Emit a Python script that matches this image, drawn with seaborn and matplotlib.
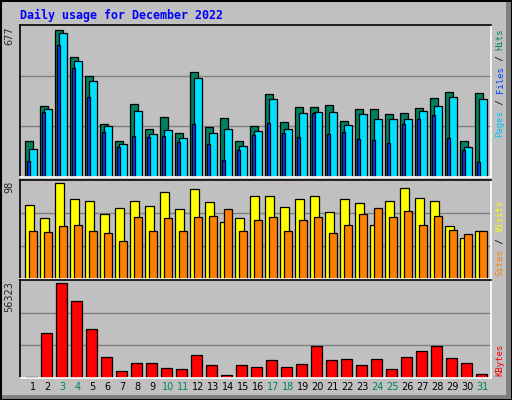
import numpy as np
import matplotlib
matplotlib.use('Agg')
import matplotlib.pyplot as plt
from matplotlib.lines import Line2D
import seaborn as sns

days = list(range(1, 32))
weekend = [3, 4, 10, 11, 17, 18, 24, 25, 31]
hits = [165, 325, 677, 553, 462, 242, 165, 334, 220, 274, 201, 480, 229, 270, 165, 233,
        380, 252, 320, 320, 329, 256, 311, 311, 288, 293, 316, 361, 389, 165, 384]
files = [128, 311, 663, 531, 439, 233, 151, 302, 197, 215, 178, 453, 201, 220, 142, 210,
         357, 220, 293, 297, 297, 238, 288, 265, 265, 265, 302, 325, 366, 137, 357]
pages = [73, 297, 608, 499, 366, 206, 137, 188, 183, 188, 160, 242, 151, 78, 123, 192,
         247, 201, 183, 293, 197, 206, 174, 169, 155, 242, 265, 284, 178, 123, 69]
visits = [75.6, 61.8, 98, 82, 80, 66, 72.4, 80, 74.6, 88.4, 71.4, 91.6, 78.8, 58.6, 61.8, 84.2,
          85.2, 73.5, 82, 85.2, 68.2, 82, 77.8, 55.4, 80, 92.7, 83.1, 80, 54.3, 41.5, 49]
sites = [49, 48, 54.3, 55.4, 49, 46.9, 38.3, 62.8, 49, 61.8, 49, 62.8, 63.9, 71.4, 49, 60.7,
         62.8, 49, 60.7, 62.8, 46.9, 55.4, 66, 72.4, 62.8, 69.2, 55.4, 63.9, 50, 45.8, 49]
kbytes = [600, 26616, 56323, 45803, 29091, 12379, 4333, 8665, 8665, 6190, 5570, 13617, 7428,
          1857, 7428, 6809, 10522, 6809, 8047, 19187, 10522, 11141, 7428, 11141, 5570, 12379,
          16093, 19187, 11760, 8665, 2476]

sns.set_style('white')
plt.rcParams['font.family'] = ['DejaVu Sans']
bg = '#c0c0c0'
fig = plt.figure(figsize=(5.12, 4.0), dpi=100, facecolor=bg)

x = np.array(days, dtype=float) - 0.5
W, H = 512, 400


def panel(top, bottom):
    ax = fig.add_axes([20 / W, 1 - bottom / H, 471 / W, (bottom - top) / H])
    ax.set_facecolor(bg)
    ax.set_xlim(0.147, 31.55)
    ax.set_xticks([])
    ax.set_yticks([])
    for s in ['left', 'top']:
        ax.spines[s].set_color('black')
    for s in ['right', 'bottom']:
        ax.spines[s].set_color('white')
    for s in ax.spines.values():
        s.set_linewidth(1.2)
    return ax


def grid(ax, vmax):
    top = vmax / 0.97
    ax.set_ylim(0, top)
    for f in (1 / 3, 2 / 3):
        ax.axhline(top * f, color='#808080', lw=1, zorder=0)


def bars(ax, vals, x0, x1, color):
    ax.bar(x + x0, vals, width=x1 - x0, align='edge', color=color,
           edgecolor='black', linewidth=0.9, zorder=2)


mono = 'DejaVu Sans Mono'


def side_label(parts, y_bottom):
    y = y_bottom
    for txt, col in parts:
        fig.text(500 / W, 1 - y / H, txt, rotation=90, color=col, family=mono,
                 fontsize=6.5, ha='center', va='bottom')
        y -= len(txt) * 5.45


ax1 = panel(25, 177)
grid(ax1, max(hits))
bars(ax1, hits, 0, 0.49, '#008060')
bars(ax1, files, 0.27, 0.76, '#00e0ff')
bars(ax1, pages, 0.13, 0.29, '#0040ff')
ax1.text(-0.012, 0.99, str(max(hits)), transform=ax1.transAxes, rotation=90,
         ha='right', va='top', fontsize=7)

ax2 = panel(180, 279)
grid(ax2, max(visits))
bars(ax2, visits, 0, 0.56, '#ffff00')
bars(ax2, sites, 0.27, 0.76, '#ff8000')
ax2.text(-0.012, 0.99, str(int(max(visits))), transform=ax2.transAxes, rotation=90,
         ha='right', va='top', fontsize=7)

ax3 = panel(280, 378)
grid(ax3, max(kbytes))
bars(ax3, kbytes, 0.07, 0.76, '#ff0000')
ax3.text(-0.012, 0.99, str(max(kbytes)), transform=ax3.transAxes, rotation=90,
         ha='right', va='top', fontsize=7)
ax3.set_xticks(days)
ax3.set_xticklabels([str(d) for d in days], fontsize=7)
ax3.tick_params(axis='x', length=0, pad=3)
for lab, d in zip(ax3.get_xticklabels(), days):
    lab.set_color('#008060' if d in weekend else 'black')

side_label([('Pages', '#00c0ff'), (' / ', 'black'), ('Files', '#0040ff'),
            (' / ', 'black'), ('Hits', '#008060')], 137)
side_label([('Sites', '#ff8000'), (' / ', 'black'), ('Visits', '#ffff00')], 276)
side_label([('KBytes', '#ff0000')], 376)

fig.text(20 / W, 1 - 15 / H, 'Daily usage for December 2022', color='#0000ff',
         family=mono, fontweight='bold', fontsize=8.4, ha='left', va='center')

# bevelled frame
def fl(xs, ys, col, lw):
    fig.add_artist(Line2D([v / W for v in xs], [1 - v / H for v in ys],
                          color=col, lw=lw, transform=fig.transFigure))

fl([1, 1, 510], [399, 1, 1], 'white', 1.5)
fl([508, 508], [2, 396], '#808080', 3.5)
fl([2, 508], [397, 397], '#808080', 3.5)
fl([0.5, 511.5, 511.5, 0.5, 0.5], [0.5, 0.5, 399.5, 399.5, 0.5], 'black', 1.5)

fig.savefig('out.png', dpi=100, facecolor=bg)
